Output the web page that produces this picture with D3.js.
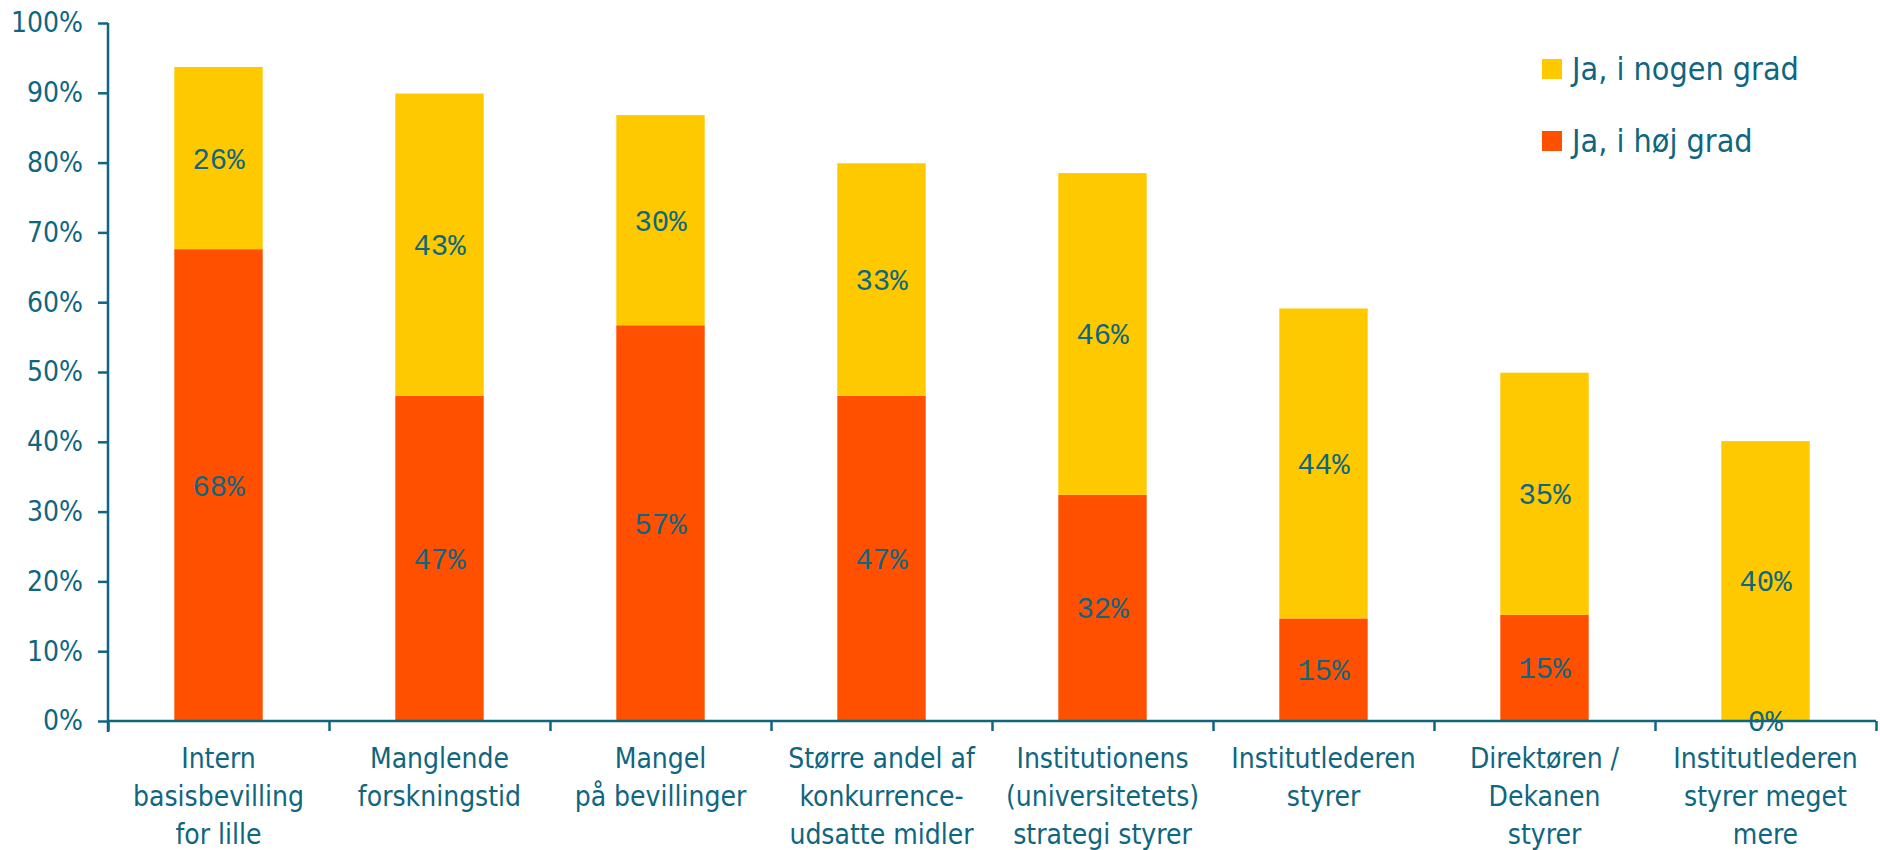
<!DOCTYPE html>
<html>
<head>
<meta charset="utf-8">
<script src="https://cdn.jsdelivr.net/npm/d3@7"></script>
<style>
  body { margin: 0; background: #fff; }
  svg { display: block; }
</style>
</head>
<body>
<div id="chart"></div>
<script>
// data
const categories = [
  ["Intern", "basisbevilling", "for lille"],
  ["Manglende", "forskningstid"],
  ["Mangel", "på bevillinger"],
  ["Større andel af", "konkurrence-", "udsatte midler"],
  ["Institutionens", "(universitetets)", "strategi styrer"],
  ["Institutlederen", "styrer"],
  ["Direktøren /", "Dekanen", "styrer"],
  ["Institutlederen", "styrer meget", "mere"]
];
const hoejGrad  = [0.676, 0.466, 0.567, 0.466, 0.324, 0.147, 0.152, 0.0];
const nogenGrad = [0.261, 0.433, 0.301, 0.333, 0.461, 0.444, 0.347, 0.401];
const seriesNames = ["Ja, i høj grad", "Ja, i nogen grad"];
const yTicks = [0, 0.1, 0.2, 0.3, 0.4, 0.5, 0.6, 0.7, 0.8, 0.9, 1.0];

const width = 1880, height = 850;
const margins = {l: 108, r: 4, t: 23, b: 129};
const ink = "#0f6680";
const colors = {"Ja, i høj grad": "#ff5000", "Ja, i nogen grad": "#ffc900"};
const axisFont = "'Liberation Sans Narrow', 'DejaVu Sans Condensed', 'Roboto', sans-serif";

const rows = categories.map((c, i) => ({key: i, "Ja, i høj grad": hoejGrad[i], "Ja, i nogen grad": nogenGrad[i]}));
const stacked = d3.stack().keys(seriesNames)(rows);

const svg = d3.select("#chart").append("svg")
  .attr("width", width).attr("height", height);

const x = d3.scaleBand()
  .domain(d3.range(categories.length))
  .range([margins.l, width - margins.r])
  .paddingInner(0.6).paddingOuter(0.3);
// boundaries between categories, for the x ticks
const edge = d3.scaleLinear().domain([0, categories.length]).range([margins.l, width - margins.r]);
const y = d3.scaleLinear().domain([0, 1]).range([height - margins.b, margins.t]);

// bars
svg.append("g").selectAll("g")
  .data(stacked)
  .join("g")
    .attr("fill", d => colors[d.key])
  .selectAll("rect")
  .data(d => d)
  .join("rect")
    .attr("x", (d, i) => x(i))
    .attr("width", x.bandwidth())
    .attr("y", d => y(d[1]))
    .attr("height", d => y(d[0]) - y(d[1]));

// y axis
const yAxis = svg.append("g")
  .attr("transform", `translate(${margins.l},0)`)
  .call(d3.axisLeft(y).tickValues(yTicks).tickFormat(d3.format(".0%")).tickSize(10).tickPadding(15));
yAxis.select(".domain").attr("d", `M0,${y(1)}V${y(0) + 11}`);

// x axis, ticks sit between categories
const xAxis = svg.append("g")
  .attr("transform", `translate(0,${y(0)})`)
  .call(d3.axisBottom(edge).tickValues(d3.range(categories.length + 1)).tickFormat("").tickSize(10));
xAxis.select(".domain").attr("d", `M${margins.l},0H${width - margins.r}`);

svg.selectAll(".domain, .tick line").attr("stroke", ink).attr("stroke-width", 2.5);
yAxis.selectAll("text")
  .attr("fill", ink).attr("font-family", axisFont).attr("font-size", "28px");

// category labels
const catLabels = svg.append("g").selectAll("text")
  .data(categories)
  .join("text")
    .attr("x", (d, i) => x(i) + x.bandwidth() / 2)
    .attr("y", y(0) + 47)
    .attr("text-anchor", "middle")
    .attr("fill", ink)
    .attr("font-family", axisFont)
    .attr("font-size", "28px");
catLabels.selectAll("tspan")
  .data(d => d)
  .join("tspan")
    .attr("x", function() { return this.parentNode.getAttribute("x"); })
    .attr("dy", (d, i) => i === 0 ? 0 : 38)
    .text(d => d);

// value labels in the middle of each segment
svg.append("g").selectAll("g")
  .data(stacked)
  .join("g")
  .selectAll("text")
  .data(d => d)
  .join("text")
    .attr("x", (d, i) => x(i) + x.bandwidth() / 2)
    .attr("y", d => y((d[0] + d[1]) / 2))
    .attr("dy", "0.36em")
    .attr("text-anchor", "middle")
    .attr("fill", ink)
    .attr("font-family", "'Liberation Mono', 'DejaVu Sans Mono', monospace")
    .attr("font-size", "29px")
    .text(d => d3.format(".0%")(d[1] - d[0]));

// legend
const legend = svg.append("g").selectAll("g")
  .data(seriesNames.slice().reverse())
  .join("g")
    .attr("transform", (d, i) => `translate(1542,${80 + i * 72})`);
legend.append("rect")
  .attr("y", -21).attr("width", 20).attr("height", 20)
  .attr("fill", d => colors[d]);
legend.append("text")
  .attr("x", 30)
  .attr("fill", ink)
  .attr("font-family", axisFont)
  .attr("font-size", "32px")
  .text(d => d);
</script>
</body>
</html>
